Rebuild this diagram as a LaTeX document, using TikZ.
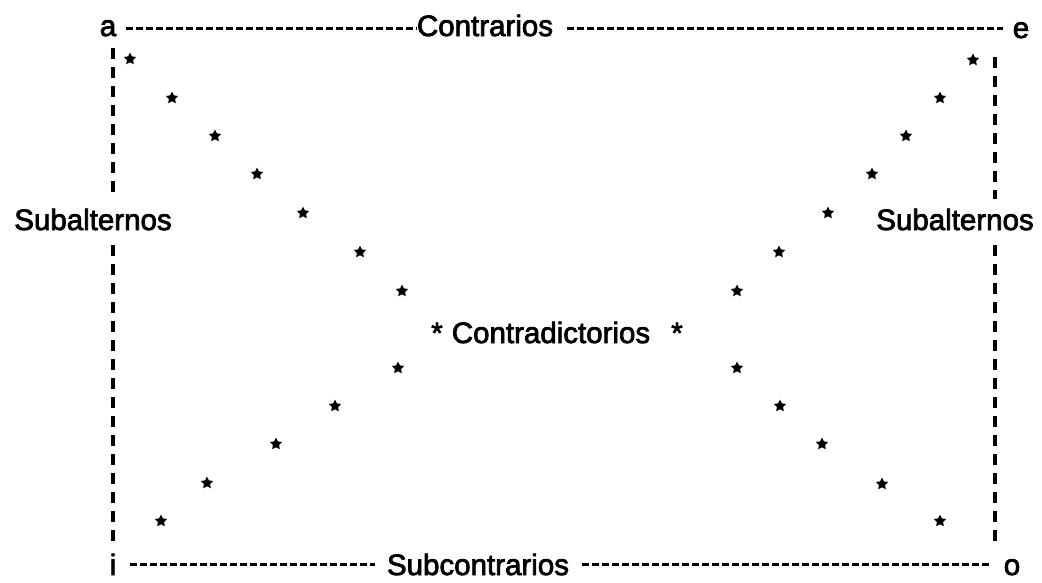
\documentclass[tikz,border=0pt]{standalone}
\usepackage{fontspec}
\setmainfont{Liberation Sans}
\newfontfamily\lblfont[FakeBold=2.5]{Liberation Sans}
\usetikzlibrary{shapes.geometric}
\begin{document}
\begin{tikzpicture}[x=1pt,y=-1pt,
  lbl/.style={inner sep=0pt,anchor=base,font=\fontsize{29.5}{34}\lblfont},
  hd/.style={line width=3.4pt,dash pattern=on 7pt off 3pt},
  vd/.style={line width=3.2pt,dash pattern=on 11pt off 8pt},
  st/.style={star,star points=5,star point ratio=2.0,fill=black,inner sep=0pt,minimum size=13pt}]
\useasboundingbox (0,0) rectangle (1042,582);
% corner letters and labels
\node[lbl] (a) at (108,36) {a};
\node[lbl] (contr) at (485,36) {Contrarios};
\node[lbl] (e) at (1021,38) {e};
\node[lbl] (subL) at (93,230) {Subalternos};
\node[lbl] (subR) at (955,230) {Subalternos};
\node[lbl] (cd) at (551,343) {Contradictorios};
\node[lbl] (astL) at (437,343) {*};
\node[lbl] (astR) at (677,343) {*};
\node[lbl] (i) at (113,575) {i};
\node[lbl] (subc) at (478,575) {Subcontrarios};
\node[lbl] (o) at (1012,575) {o};
\coordinate (lx) at (113,0);
\coordinate (rx) at (995,0);
% horizontal dashed lines
\draw[hd] ([xshift=10pt]a.east) -- (a.east -| contr.west);
\draw[hd] ([xshift=14pt]contr.east |- a.east) -- ([xshift=-10pt]e.west |- a.east);
\draw[hd] ([xshift=14pt]i.east) -- ([xshift=-12pt]i.east -| subc.west);
\draw[hd] ([xshift=13pt]subc.east |- i.east) -- ([xshift=-13pt]o.west |- i.east);
% vertical dashed lines
\draw[vd] ([yshift=-12pt]lx |- a.south) -- ([yshift=9pt]lx |- subL.north);
\draw[vd] ([yshift=-15pt]lx |- subL.south) -- ([yshift=7pt]lx |- i.north);
\draw[vd] ([yshift=-19pt]rx |- e.south) -- ([yshift=9pt]rx |- subR.north);
\draw[vd] ([yshift=-15pt]rx |- subR.south) -- ([yshift=14pt]rx |- o.north);
% stars
\foreach \n/\p in {1/{130,59},2/{172,98},3/{215,136},4/{257,174},5/{303,213},6/{360,252},7/{402,291},
  8/{398,368},9/{335,406},10/{276,444},11/{207,483},12/{161,521},
  13/{973,60},14/{940,98},15/{906,136},16/{872,174},17/{828,213},18/{779,252},19/{737,291},
  20/{737,368},21/{780,406},22/{822,444},23/{882,484},24/{940,521}}
  \node[st] (s\n) at (\p) {};
\end{tikzpicture}
\end{document}
